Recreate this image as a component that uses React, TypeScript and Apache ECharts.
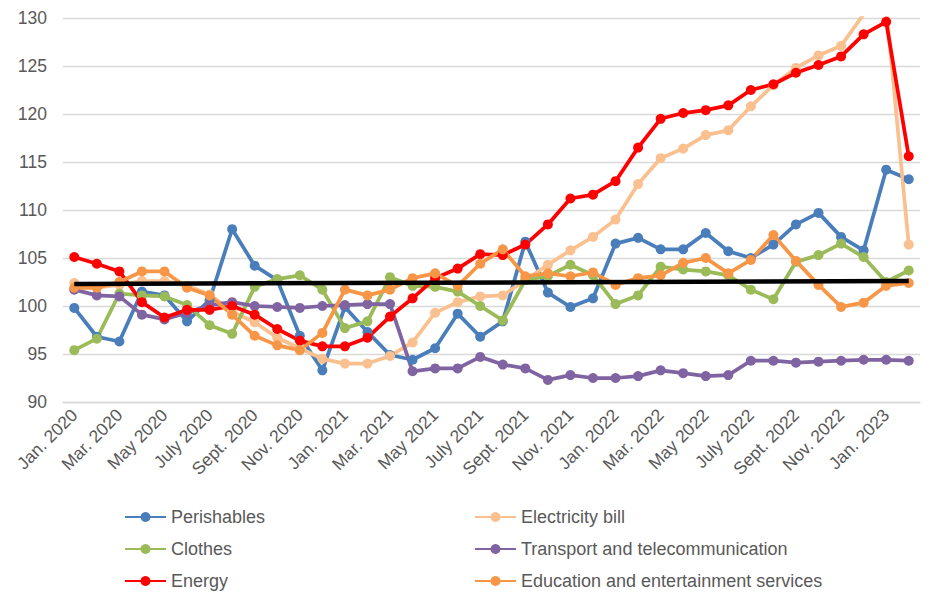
import React, { useEffect, useRef } from "react";
import * as echarts from "echarts";

const categories = [
  "Jan. 2020", "Feb. 2020", "Mar. 2020", "Apr. 2020", "May 2020", "June 2020",
  "July 2020", "Aug. 2020", "Sept. 2020", "Oct. 2020", "Nov. 2020", "Dec. 2020",
  "Jan. 2021", "Feb. 2021", "Mar. 2021", "Apr. 2021", "May 2021", "June 2021",
  "July 2021", "Aug. 2021", "Sept. 2021", "Oct. 2021", "Nov. 2021", "Dec. 2021",
  "Jan. 2022", "Feb. 2022", "Mar. 2022", "Apr. 2022", "May 2022", "June 2022",
  "July 2022", "Aug. 2022", "Sept. 2022", "Oct. 2022", "Nov. 2022", "Dec. 2022",
  "Jan. 2023", "Feb. 2023",
];

const perishables = [99.8, 96.8, 96.3, 101.5, 101.1, 98.4, 100.6, 108.0, 104.2, 102.7, 96.9, 93.3, 99.9, 97.3, 94.9, 94.4, 95.6, 99.2, 96.8, 98.4, 106.7, 101.4, 99.9, 100.8, 106.5, 107.1, 105.9, 105.9, 107.6, 105.7, 105.0, 106.4, 108.5, 109.7, 107.2, 105.8, 114.2, 113.2];
const electricity = [102.4, 101.9, 102.2, 102.6, 102.6, 102.1, 101.2, 99.4, 98.3, 96.7, 95.6, 94.5, 94.0, 94.0, 94.8, 96.2, 99.3, 100.4, 101.0, 101.1, 102.7, 104.3, 105.8, 107.2, 109.0, 112.7, 115.4, 116.4, 117.8, 118.3, 120.8, 123.0, 124.8, 126.1, 127.1, 130.4, 131.2, 106.4];
const clothes = [95.4, 96.6, 101.3, 101.1, 101.0, 100.1, 98.0, 97.1, 102.0, 102.8, 103.2, 101.7, 97.7, 98.4, 103.0, 102.1, 102.0, 101.5, 100.0, 98.5, 102.7, 103.1, 104.3, 103.2, 100.2, 101.1, 104.1, 103.8, 103.6, 103.2, 101.7, 100.7, 104.6, 105.3, 106.5, 105.1, 102.5, 103.7];
const transport = [101.7, 101.1, 101.0, 99.1, 98.6, 99.3, 100.1, 100.4, 100.0, 99.9, 99.8, 100.0, 100.1, 100.2, 100.2, 93.2, 93.5, 93.5, 94.7, 93.9, 93.5, 92.3, 92.8, 92.5, 92.5, 92.7, 93.3, 93.0, 92.7, 92.8, 94.3, 94.3, 94.1, 94.2, 94.3, 94.4, 94.4, 94.3];
const energy = [105.1, 104.4, 103.6, 100.4, 98.8, 99.6, 99.6, 100.0, 99.1, 97.6, 96.4, 95.8, 95.8, 96.7, 98.9, 100.8, 102.9, 103.9, 105.4, 105.3, 106.4, 108.5, 111.2, 111.6, 113.0, 116.5, 119.5, 120.1, 120.4, 120.9, 122.5, 123.1, 124.3, 125.1, 126.0, 128.3, 129.6, 115.6];
const education = [101.9, 101.9, 102.5, 103.6, 103.6, 101.9, 101.1, 99.1, 96.9, 95.9, 95.4, 97.2, 101.7, 101.1, 101.7, 102.9, 103.4, 102.1, 104.4, 105.9, 103.1, 103.4, 103.1, 103.5, 102.2, 102.9, 103.2, 104.5, 105.0, 103.4, 104.8, 107.4, 104.7, 102.2, 99.9, 100.35, 102.1, 102.4];
// reference line: start and end values only
const referenceStart = 102.3;
const referenceEnd = 102.6;

const yMin = 90;
const yMax = 130;
const yStep = 5;

const seriesDefs = [
  { name: "Perishables", data: perishables, color: "#4A7EBB" },
  { name: "Electricity bill", data: electricity, color: "#FAC090" },
  { name: "Clothes", data: clothes, color: "#9BBB59" },
  { name: "Transport and telecommunication", data: transport, color: "#8064A2" },
  { name: "Energy", data: energy, color: "#FF0000" },
  { name: "Education and entertainment services", data: education, color: "#F79646" },
];

const FONT = "'Liberation Sans', Arial, sans-serif";
const TEXT = "#595959";

export default function App() {
  const ref = useRef<HTMLDivElement>(null);
  useEffect(() => {
    if (!ref.current) return;
    const chart = echarts.init(ref.current, null, { renderer: "svg" });
    const refData: (number | null)[] = categories.map(() => null);
    refData[0] = referenceStart;
    refData[refData.length - 1] = referenceEnd;

    const legendCommon = {
      orient: "vertical" as const,
      top: 507,
      height: 92,
      padding: 0,
      itemWidth: 41,
      itemHeight: 12.5,
      itemGap: 12,
      textStyle: { fontFamily: FONT, fontSize: 18, color: TEXT, lineHeight: 20 },
      selectedMode: false,
    };

    chart.setOption({
      animation: false,
      textStyle: { fontFamily: FONT },
      grid: { left: 63, right: 14, top: 18, bottom: 198 },
      legend: [
        { ...legendCommon, left: 124, data: ["Perishables", "Clothes", "Energy"] },
        {
          ...legendCommon,
          left: 474,
          data: ["Electricity bill", "Transport and telecommunication", "Education and entertainment services"],
        },
      ],
      xAxis: {
        type: "category",
        data: categories,
        boundaryGap: true,
        axisLine: { show: true, lineStyle: { color: "#D9D9D9", width: 1.3 } },
        axisTick: { show: false },
        axisLabel: {
          interval: 1,
          rotate: 45,
          margin: 10,
          fontFamily: FONT,
          fontSize: 17.5,
          color: TEXT,
        },
      },
      yAxis: {
        type: "value",
        min: yMin,
        max: yMax,
        interval: yStep,
        axisLine: { show: false },
        axisTick: { show: false },
        axisLabel: { margin: 16, fontFamily: FONT, fontSize: 17.5, color: TEXT },
        splitLine: { lineStyle: { color: "#D9D9D9", width: 1.3 } },
      },
      series: [
        ...seriesDefs.map((s) => ({
          name: s.name,
          type: "line",
          data: s.data,
          symbol: "circle",
          symbolSize: 10,
          showAllSymbol: true,
          clip: true,
          lineStyle: { color: s.color, width: 3.75 },
          itemStyle: { color: s.color },
          emphasis: { disabled: true },
        })),
        {
          name: "Reference",
          type: "line",
          data: refData,
          connectNulls: true,
          symbol: "none",
          lineStyle: { color: "#000000", width: 4.5 },
          itemStyle: { color: "#000000" },
          emphasis: { disabled: true },
          z: 5,
        },
      ],
    });
    return () => chart.dispose();
  }, []);
  return <div ref={ref} style={{ position: "absolute", left: 0, top: 0, width: 934, height: 600 }} />;
}
